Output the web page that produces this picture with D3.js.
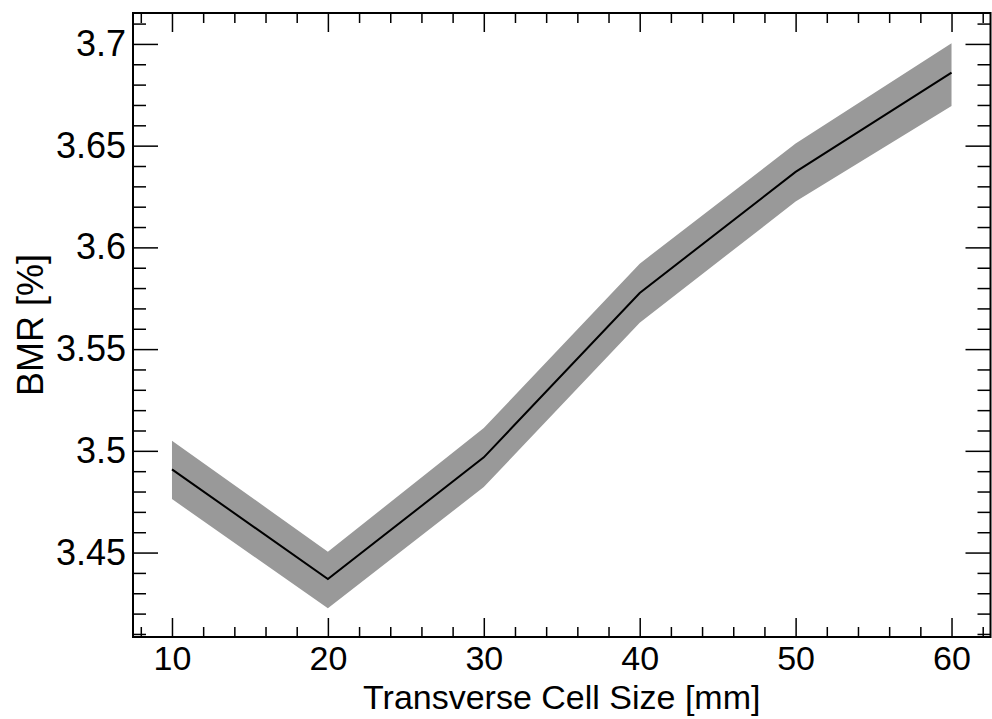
<!DOCTYPE html>
<html>
<head>
<meta charset="utf-8">
<script src="https://cdn.jsdelivr.net/npm/d3@7"></script>
<style>
	body { margin: 0; background: #fff; }
	text { font-family: "Liberation Sans", Arial, sans-serif; fill: #000; }
	.tick line { stroke: #000; stroke-width: 1.5; }
	.domain { display: none; }
</style>
</head>
<body>
<div id="chart"></div>
<script>
// data
var cellSize = [10, 20, 30, 40, 50, 60];
var bmr      = [3.4909, 3.4370, 3.4968, 3.5776, 3.6371, 3.6859];
var bmrHigh  = [3.5050, 3.4504, 3.5112, 3.5920, 3.6510, 3.7003];
var bmrLow   = [3.4763, 3.4226, 3.4822, 3.5630, 3.6225, 3.6695];

var xTicks = [10, 20, 30, 40, 50, 60];
var yTicks = [3.45, 3.5, 3.55, 3.6, 3.65, 3.7];

var width = 992, height = 719;
var margin = {top: 13, right: 1.5, bottom: 82, left: 133};

var x = d3.scaleLinear()
	.domain([7.5, 62.5])
	.range([margin.left, width - margin.right]);

var y = d3.scaleLinear()
	.domain([3.4085, 3.7152])
	.range([height - margin.bottom, margin.top]);

var svg = d3.select("#chart").append("svg")
	.attr("width", width)
	.attr("height", height);

var pts = cellSize.map(function(d, i) {
	return {x: d, v: bmr[i], hi: bmrHigh[i], lo: bmrLow[i]};
});

// error band
svg.append("path")
	.datum(pts)
	.attr("fill", "#999999")
	.attr("d", d3.area()
		.x(function(d) { return x(d.x); })
		.y0(function(d) { return y(d.lo); })
		.y1(function(d) { return y(d.hi); }));

// central line
svg.append("path")
	.datum(pts)
	.attr("fill", "none")
	.attr("stroke", "#000")
	.attr("stroke-width", 2)
	.attr("d", d3.line()
		.x(function(d) { return x(d.x); })
		.y(function(d) { return y(d.v); }));

var xMinor = d3.range(8, 63, 2).filter(function(d) { return d % 10 !== 0; });
var yMinor = d3.range(341, 372, 1).map(function(d) { return d / 100; })
	.filter(function(d) { return Math.round(d * 100) % 5 !== 0; });

var x0 = margin.left, x1 = width - margin.right;
var y0 = height - margin.bottom, y1 = margin.top;

// bottom
svg.append("g").attr("transform", "translate(0," + y0 + ")")
	.call(d3.axisBottom(x).tickValues(xTicks).tickSize(-19).tickPadding(9)
		.tickFormat(d3.format("d")))
	.selectAll("text").style("font-size", "34px").attr("dy", "0.71em");
svg.append("g").attr("transform", "translate(0," + y0 + ")")
	.call(d3.axisBottom(x).tickValues(xMinor).tickSize(-10).tickFormat(""));

// top
svg.append("g").attr("transform", "translate(0," + y1 + ")")
	.call(d3.axisTop(x).tickValues(xTicks).tickSize(-19).tickFormat(""));
svg.append("g").attr("transform", "translate(0," + y1 + ")")
	.call(d3.axisTop(x).tickValues(xMinor).tickSize(-10).tickFormat(""));

// left
svg.append("g").attr("transform", "translate(" + x0 + ",0)")
	.call(d3.axisLeft(y).tickValues(yTicks).tickSize(-25).tickPadding(7)
		.tickFormat(function(d) { return String(+d.toFixed(2)); }))
	.selectAll("text").style("font-size", "36px");
svg.append("g").attr("transform", "translate(" + x0 + ",0)")
	.call(d3.axisLeft(y).tickValues(yMinor).tickSize(-13).tickFormat(""));

// right
svg.append("g").attr("transform", "translate(" + x1 + ",0)")
	.call(d3.axisRight(y).tickValues(yTicks).tickSize(-25).tickFormat(""));
svg.append("g").attr("transform", "translate(" + x1 + ",0)")
	.call(d3.axisRight(y).tickValues(yMinor).tickSize(-13).tickFormat(""));

// frame
svg.append("rect")
	.attr("x", x0).attr("y", y1)
	.attr("width", x1 - x0).attr("height", y0 - y1)
	.attr("fill", "none")
	.attr("stroke", "#000")
	.attr("stroke-width", 2);

// axis titles
svg.append("text")
	.attr("x", (x0 + x1) / 2)
	.attr("y", 709)
	.attr("text-anchor", "middle")
	.style("font-size", "34px")
	.text("Transverse Cell Size [mm]");

svg.append("text")
	.attr("transform", "translate(43," + ((y0 + y1) / 2) + ") rotate(-90)")
	.attr("text-anchor", "middle")
	.style("font-size", "36px")
	.text("BMR [%]");
</script>
</body>
</html>
